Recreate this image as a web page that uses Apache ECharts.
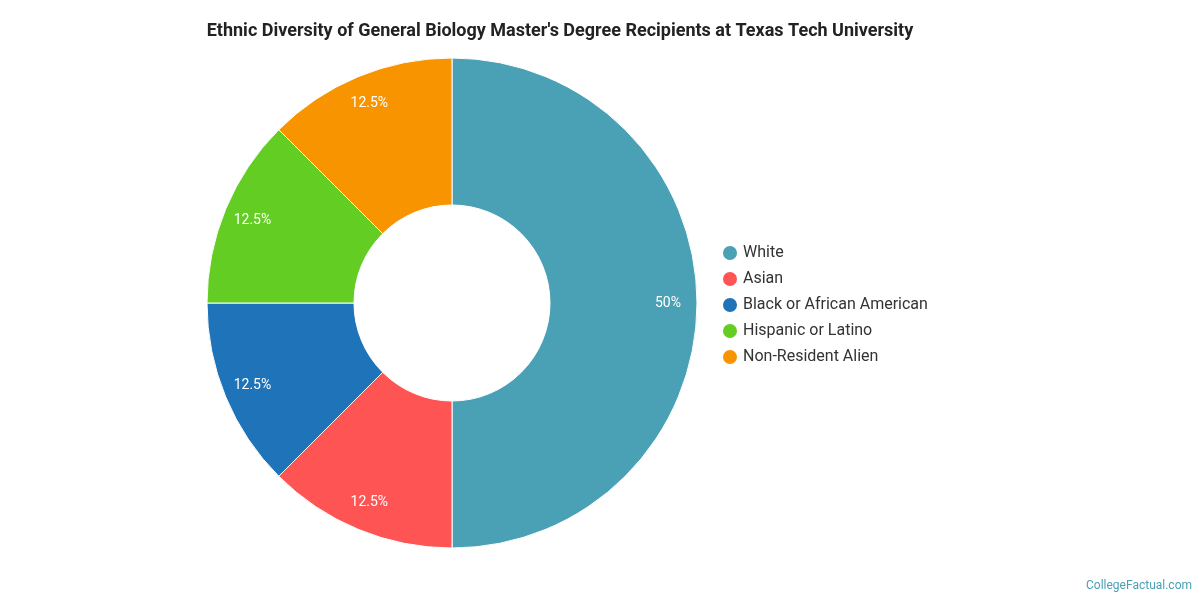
<!DOCTYPE html>
<html>
<head>
<meta charset="utf-8">
<script src="https://cdn.jsdelivr.net/npm/echarts@6/dist/echarts.min.js"></script>
<style>html,body{margin:0;padding:0;background:#fff}#chart{width:1200px;height:600px}</style>
</head>
<body>
<div id="chart"></div>
<script>
const categories = ['White', 'Asian', 'Black or African American', 'Hispanic or Latino', 'Non-Resident Alien']
const shares = [50, 12.5, 12.5, 12.5, 12.5]
const colors = ['#4aa0b5', '#fe5454', '#1f73b8', '#63cd24', '#f89400']

const data = categories.map((name, i) => ({ name: name, value: shares[i] }))

const chart = echarts.init(document.getElementById('chart'))
chart.setOption({
  animation: false,
  color: colors,
  title: {
    text: "Ethnic Diversity of General Biology Master's Degree Recipients at Texas Tech University",
    left: 555, top: 17, textAlign: 'center',
    textStyle: { fontFamily: 'Roboto', fontSize: 18, fontWeight: 'bold', color: '#222' }
  },
  graphic: [{
    type: 'text', right: 8, bottom: 8,
    style: { text: 'CollegeFactual.com', fill: '#4aa0b5', font: '12px Roboto' }
  }],
  legend: {
    orient: 'vertical', left: 716, top: 239, itemGap: 8,
    icon: 'circle', itemWidth: 16, itemHeight: 16,
    textStyle: { fontFamily: 'Roboto', fontSize: 16, color: '#333' },
    data: categories
  },
  series: [{
    type: 'pie', center: [452, 303], radius: [98, 245],
    startAngle: 90, clockwise: true,
    itemStyle: { borderColor: '#fff', borderWidth: 1 },
    label: { show: false }, labelLine: { show: false },
    data: data
  }, {
    type: 'pie', center: [452, 303], radius: [181, 245],
    startAngle: 90, clockwise: true, silent: true,
    itemStyle: { color: 'rgba(0,0,0,0)' },
    label: { show: true, position: 'inside', formatter: p => p.value + '%',
      color: '#fff', fontFamily: 'Roboto', fontSize: 14 },
    data: data
  }]
})
</script>
</body>
</html>
